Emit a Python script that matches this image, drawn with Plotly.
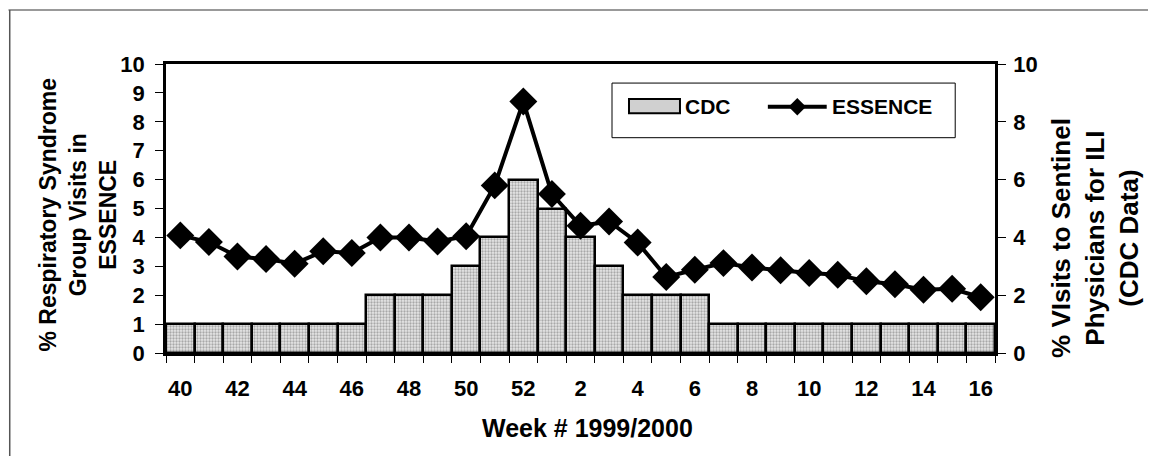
import plotly.graph_objects as go

weeks = [40, 41, 42, 43, 44, 45, 46, 47, 48, 49, 50, 51, 52,
         1, 2, 3, 4, 5, 6, 7, 8, 9, 10, 11, 12, 13, 14, 15, 16]
cdc = [1, 1, 1, 1, 1, 1, 1, 2, 2, 2, 3, 4, 6,
       5, 4, 3, 2, 2, 2, 1, 1, 1, 1, 1, 1, 1, 1, 1, 1]
essence = [4.07, 3.84, 3.34, 3.25, 3.09, 3.52, 3.46, 4.0, 4.0, 3.86, 4.04, 5.8, 8.7,
           5.5, 4.4, 4.55, 3.82, 2.63, 2.88, 3.11, 2.96, 2.86, 2.77, 2.71, 2.48, 2.38, 2.19, 2.22, 1.93]

xidx = list(range(len(weeks)))
tick_idx = xidx[::2]
tick_txt = [str(w) for w in weeks[::2]]

FONT = "Arial, Liberation Sans, sans-serif"
fig = go.Figure()

fig.add_trace(go.Bar(
    x=xidx, y=cdc, width=1, name="CDC", yaxis="y",
    marker=dict(color="#d4d4d4",
                line=dict(color="black", width=2.5),
                pattern=dict(shape=".", fgcolor="#6a6a6a", bgcolor="#e6e6e6", size=3, solidity=0.45)),
    showlegend=False,
))
fig.add_trace(go.Scatter(
    x=xidx, y=essence, name="ESSENCE", yaxis="y2", mode="lines+markers",
    line=dict(color="black", width=4),
    marker=dict(symbol="diamond", size=21.5, color="black", line=dict(width=0)),
    cliponaxis=False, showlegend=False,
))

tickfont = dict(family=FONT, size=22, color="black", weight="bold")

fig.update_layout(
    width=1156, height=456,
    margin=dict(l=158, r=169, t=56, b=111),
    paper_bgcolor="white", plot_bgcolor="white",
    bargap=0,
    xaxis=dict(range=[-0.5, 28.5], tickmode="array", tickvals=tick_idx, ticktext=tick_txt,
               ticks="", showline=True, linecolor="black", linewidth=2.5, mirror=True,
               showgrid=False, zeroline=False, tickfont=tickfont, ticklabelstandoff=14,
               minor=dict(tick0=-0.5, dtick=1, ticks="outside", ticklen=7, tickwidth=1.2,
                          tickcolor="black", showgrid=False)),
    yaxis=dict(range=[0, 10], dtick=1, ticks="outside", ticklen=8, tickwidth=1.2, tickcolor="black",
               showline=True, linecolor="black", linewidth=2.5, showgrid=False, zeroline=False,
               tickfont=tickfont, ticklabelstandoff=6),
    yaxis2=dict(range=[0, 10], dtick=2, overlaying="y", side="right", ticks="outside", ticklen=8,
                tickwidth=1.2, tickcolor="black", showline=True, linecolor="black", linewidth=2.5,
                showgrid=False, zeroline=False, tickfont=tickfont, ticklabelstandoff=3),
)

# axis titles
fig.add_annotation(xref="paper", yref="paper", x=0.509, y=-0.2595, xanchor="center", yanchor="middle",
                   text="Week # 1999/2000", showarrow=False,
                   font=dict(family=FONT, size=25, color="black", weight="bold"))
fig.add_annotation(xref="paper", yref="paper", x=-0.1062, y=0.479, xanchor="center", yanchor="middle",
                   textangle=-90, text="% Respiratory Syndrome<br>Group Visits in<br>ESSENCE", showarrow=False,
                   font=dict(family=FONT, size=23, color="black", weight="bold"))
fig.add_annotation(xref="paper", yref="paper", x=1.1206, y=0.398, xanchor="center", yanchor="middle",
                   textangle=-90, text="% VIsits to Sentinel<br>Physicians for ILI<br>(CDC Data)", showarrow=False,
                   font=dict(family=FONT, size=26, color="black", weight="bold"))

# outer frame (top and left edges)
fig.add_shape(type="line", xref="paper", yref="paper", x0=-0.19, x1=1.2, y0=1.187, y1=1.187,
              line=dict(color="#777777", width=1.5))
fig.add_shape(type="line", xref="paper", yref="paper", x0=-0.1885, x1=-0.1885, y0=1.187, y1=-0.4,
              line=dict(color="#555555", width=1.5))

# legend box drawn manually
fig.add_shape(type="rect", xref="paper", yref="paper", x0=0.538, x1=0.952, y0=0.745, y1=0.934,
              line=dict(color="black", width=1), fillcolor="white", layer="above")
fig.add_shape(type="rect", xref="paper", yref="paper", x0=0.5585, x1=0.620, y0=0.830, y1=0.879,
              line=dict(color="black", width=2), fillcolor="#d0d0d0", layer="above")
fig.add_annotation(xref="paper", yref="paper", x=0.6236, y=0.852, xanchor="left", yanchor="middle",
                   text="CDC", showarrow=False, font=dict(family=FONT, size=21, color="black", weight="bold"))
fig.add_shape(type="line", xref="paper", yref="paper", x0=0.726, x1=0.797, y0=0.852, y1=0.852,
              line=dict(color="black", width=4), layer="above")
cx, cy, dx, dy = 0.7615, 0.852, 0.0105, 0.030
fig.add_shape(type="path", xref="paper", yref="paper",
              path=f"M {cx-dx},{cy} L {cx},{cy+dy} L {cx+dx},{cy} L {cx},{cy-dy} Z",
              fillcolor="black", line=dict(color="black", width=0), layer="above")
fig.add_annotation(xref="paper", yref="paper", x=0.801, y=0.852, xanchor="left", yanchor="middle",
                   text="ESSENCE", showarrow=False, font=dict(family=FONT, size=21, color="black", weight="bold"))

fig.write_html("out.html")
